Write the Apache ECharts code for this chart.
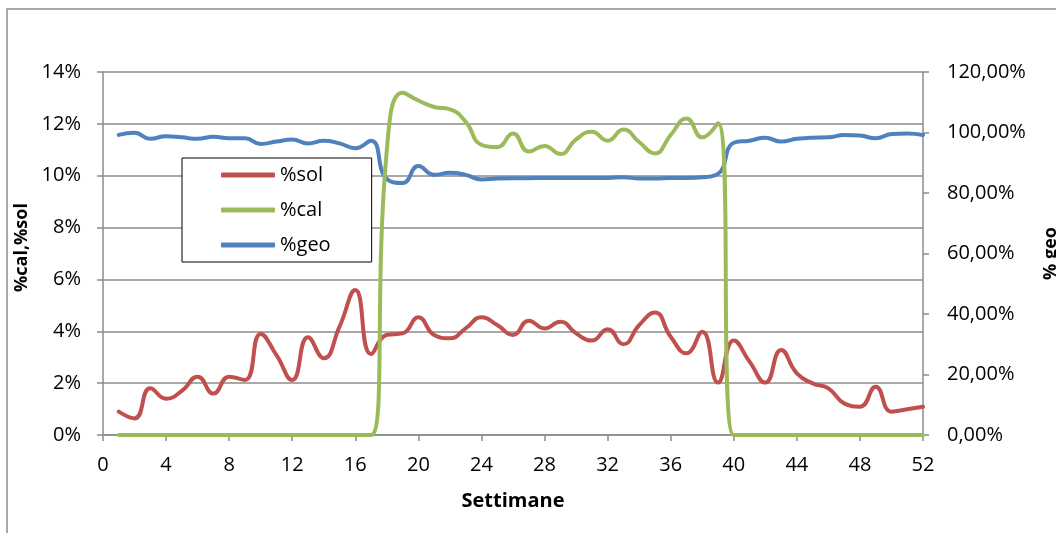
<!DOCTYPE html>
<html>
<head>
<meta charset="utf-8">
<title>Settimane</title>
<script src="https://cdn.jsdelivr.net/npm/echarts@6/dist/echarts.min.js"></script>
<style>
  html, body { margin: 0; padding: 0; background: #ffffff; }
  #chart { width: 1056px; height: 533px; }
</style>
</head>
<body>
<div id="chart"></div>
<script>
// Weekly shares (percent) over one year
const weeks = [1, 2, 3, 4, 5, 6, 7, 8, 9, 10, 11, 12, 13, 14, 15, 16, 17, 18, 19, 20, 21, 22, 23, 24, 25, 26,
  27, 28, 29, 30, 31, 32, 33, 34, 35, 36, 37, 38, 39, 40, 41, 42, 43, 44, 45, 46, 47, 48, 49, 50, 51, 52];

const sol = [0.90, 0.64, 1.80, 1.40, 1.70, 2.25, 1.60, 2.25, 2.12, 3.90, 3.08, 2.12, 3.77, 2.96, 4.18, 5.59, 3.12,
  3.86, 3.92, 4.54, 3.86, 3.73, 4.11, 4.54, 4.24, 3.86, 4.41, 4.11, 4.37, 3.92, 3.64, 4.08, 3.50, 4.24, 4.72, 3.79,
  3.15, 3.98, 2.02, 3.64, 2.83, 2.02, 3.28, 2.38, 1.99, 1.80, 1.22, 1.09, 1.86, 0.90, 0.99, 1.09];

const cal = [0, 0, 0, 0, 0, 0, 0, 0, 0, 0, 0, 0, 0, 0, 0, 0, 0,
  11.0, 13.2, 12.9, 12.65, 12.56, 12.08, 11.19, 11.1, 11.63, 10.93, 11.15, 10.84, 11.4, 11.7, 11.35, 11.78, 11.3,
  10.86, 11.57, 12.21, 11.48, 12.02, 0, 0, 0, 0, 0, 0, 0, 0, 0, 0, 0, 0, 0];

const geo = [99.2, 99.9, 97.9, 98.8, 98.4, 97.9, 98.6, 98.1, 98.1, 96.2, 97.0, 97.7, 96.4, 97.3, 96.4, 94.8, 97.3,
  84.6, 83.3, 88.9, 86.0, 86.7, 86.0, 84.5, 84.8, 84.9, 84.9, 85.0, 85.0, 85.0, 85.0, 85.0, 85.2, 84.8, 84.8, 85.0,
  85.0, 85.2, 86.3, 96.6, 97.3, 98.3, 97.0, 97.9, 98.3, 98.4, 99.2, 99.0, 98.1, 99.5, 99.7, 99.2];

// Axis ranges
const xRange = { min: 0, max: 52, step: 4 };
const leftRange = { min: 0, max: 14, step: 2 };
const rightRange = { min: 0, max: 120, step: 20 };

const FONT = '"Open Sans", "Liberation Sans", sans-serif';
const GRAY = '#8c8c8c';
const COLORS = { sol: '#C0504D', cal: '#9BBB59', geo: '#4F81BD' };

function pairs(values) {
  return weeks.map((w, i) => [w, values[i]]);
}

const chart = echarts.init(document.getElementById('chart'), null, { renderer: 'canvas' });

chart.setOption({
  animation: false,
  backgroundColor: '#ffffff',
  textStyle: { fontFamily: FONT, color: '#000' },
  graphic: [{
    type: 'rect',
    shape: { x: 7, y: 9, width: 1200, height: 700 },
    style: { fill: 'none', stroke: GRAY, lineWidth: 1.5 },
    silent: true,
    z: -10
  }],
  grid: { left: 103, right: 133, top: 72, bottom: 98, outerBoundsMode: 'none', containLabel: false },
  legend: {
    orient: 'vertical',
    left: 182,
    top: 158,
    padding: [7, 41, 7, 39],
    itemGap: 15,
    itemWidth: 54,
    itemHeight: 5,
    icon: 'roundRect',
    borderColor: '#000',
    borderWidth: 1,
    backgroundColor: '#ffffff',
    textStyle: { fontFamily: FONT, fontSize: 20, color: '#000' },
    data: ['%sol', '%cal', '%geo']
  },
  xAxis: {
    type: 'value',
    min: xRange.min,
    max: xRange.max,
    interval: xRange.step,
    name: 'Settimane',
    nameLocation: 'middle',
    nameGap: 56,
    nameTextStyle: { fontFamily: FONT, fontSize: 20, fontWeight: 'bold', color: '#000' },
    axisLine: { show: true, onZero: false, lineStyle: { color: GRAY, width: 1.5 } },
    axisTick: { show: true, length: 6, lineStyle: { color: GRAY, width: 1.5 } },
    axisLabel: { margin: 20, fontFamily: FONT, fontSize: 20, color: '#000' },
    splitLine: { show: false }
  },
  yAxis: [{
    type: 'value',
    position: 'left',
    min: leftRange.min,
    max: leftRange.max,
    interval: leftRange.step,
    name: '%cal,%sol',
    nameLocation: 'middle',
    nameRotate: 90,
    nameGap: 68,
    nameTextStyle: { fontFamily: FONT, fontSize: 18, fontWeight: 'bold', color: '#000', padding: [0, 0, 0, 12] },
    axisLine: { show: true, lineStyle: { color: GRAY, width: 1.5 } },
    axisTick: { show: true, length: 6, lineStyle: { color: GRAY, width: 1.5 } },
    axisLabel: { margin: 22, fontFamily: FONT, fontSize: 20, color: '#000', formatter: '{value}%' },
    splitLine: { show: true, lineStyle: { color: GRAY, width: 1.5 } }
  }, {
    type: 'value',
    position: 'right',
    min: rightRange.min,
    max: rightRange.max,
    interval: rightRange.step,
    name: '% geo',
    nameLocation: 'middle',
    nameRotate: 90,
    nameGap: 119,
    nameTextStyle: { fontFamily: FONT, fontSize: 18, fontWeight: 'bold', color: '#000' },
    axisLine: { show: true, lineStyle: { color: GRAY, width: 1.5 } },
    axisTick: { show: true, length: 6, lineStyle: { color: GRAY, width: 1.5 } },
    axisLabel: {
      margin: 24, fontFamily: FONT, fontSize: 20, color: '#000',
      formatter: v => v.toFixed(2).replace('.', ',') + '%'
    },
    splitLine: { show: false }
  }],
  series: [{
    name: '%sol',
    type: 'line',
    yAxisIndex: 0,
    data: pairs(sol),
    smooth: 0.5,
    showSymbol: false,
    color: COLORS.sol,
    lineStyle: { width: 4, color: COLORS.sol, cap: 'round', join: 'round' },
    z: 2
  }, {
    name: '%cal',
    type: 'line',
    yAxisIndex: 0,
    data: pairs(cal),
    smooth: 0.5,
    showSymbol: false,
    color: COLORS.cal,
    lineStyle: { width: 4, color: COLORS.cal, cap: 'round', join: 'round' },
    z: 4
  }, {
    name: '%geo',
    type: 'line',
    yAxisIndex: 1,
    data: pairs(geo),
    smooth: 0.5,
    showSymbol: false,
    color: COLORS.geo,
    lineStyle: { width: 4, color: COLORS.geo, cap: 'round', join: 'round' },
    z: 3
  }]
});
</script>
</body>
</html>
